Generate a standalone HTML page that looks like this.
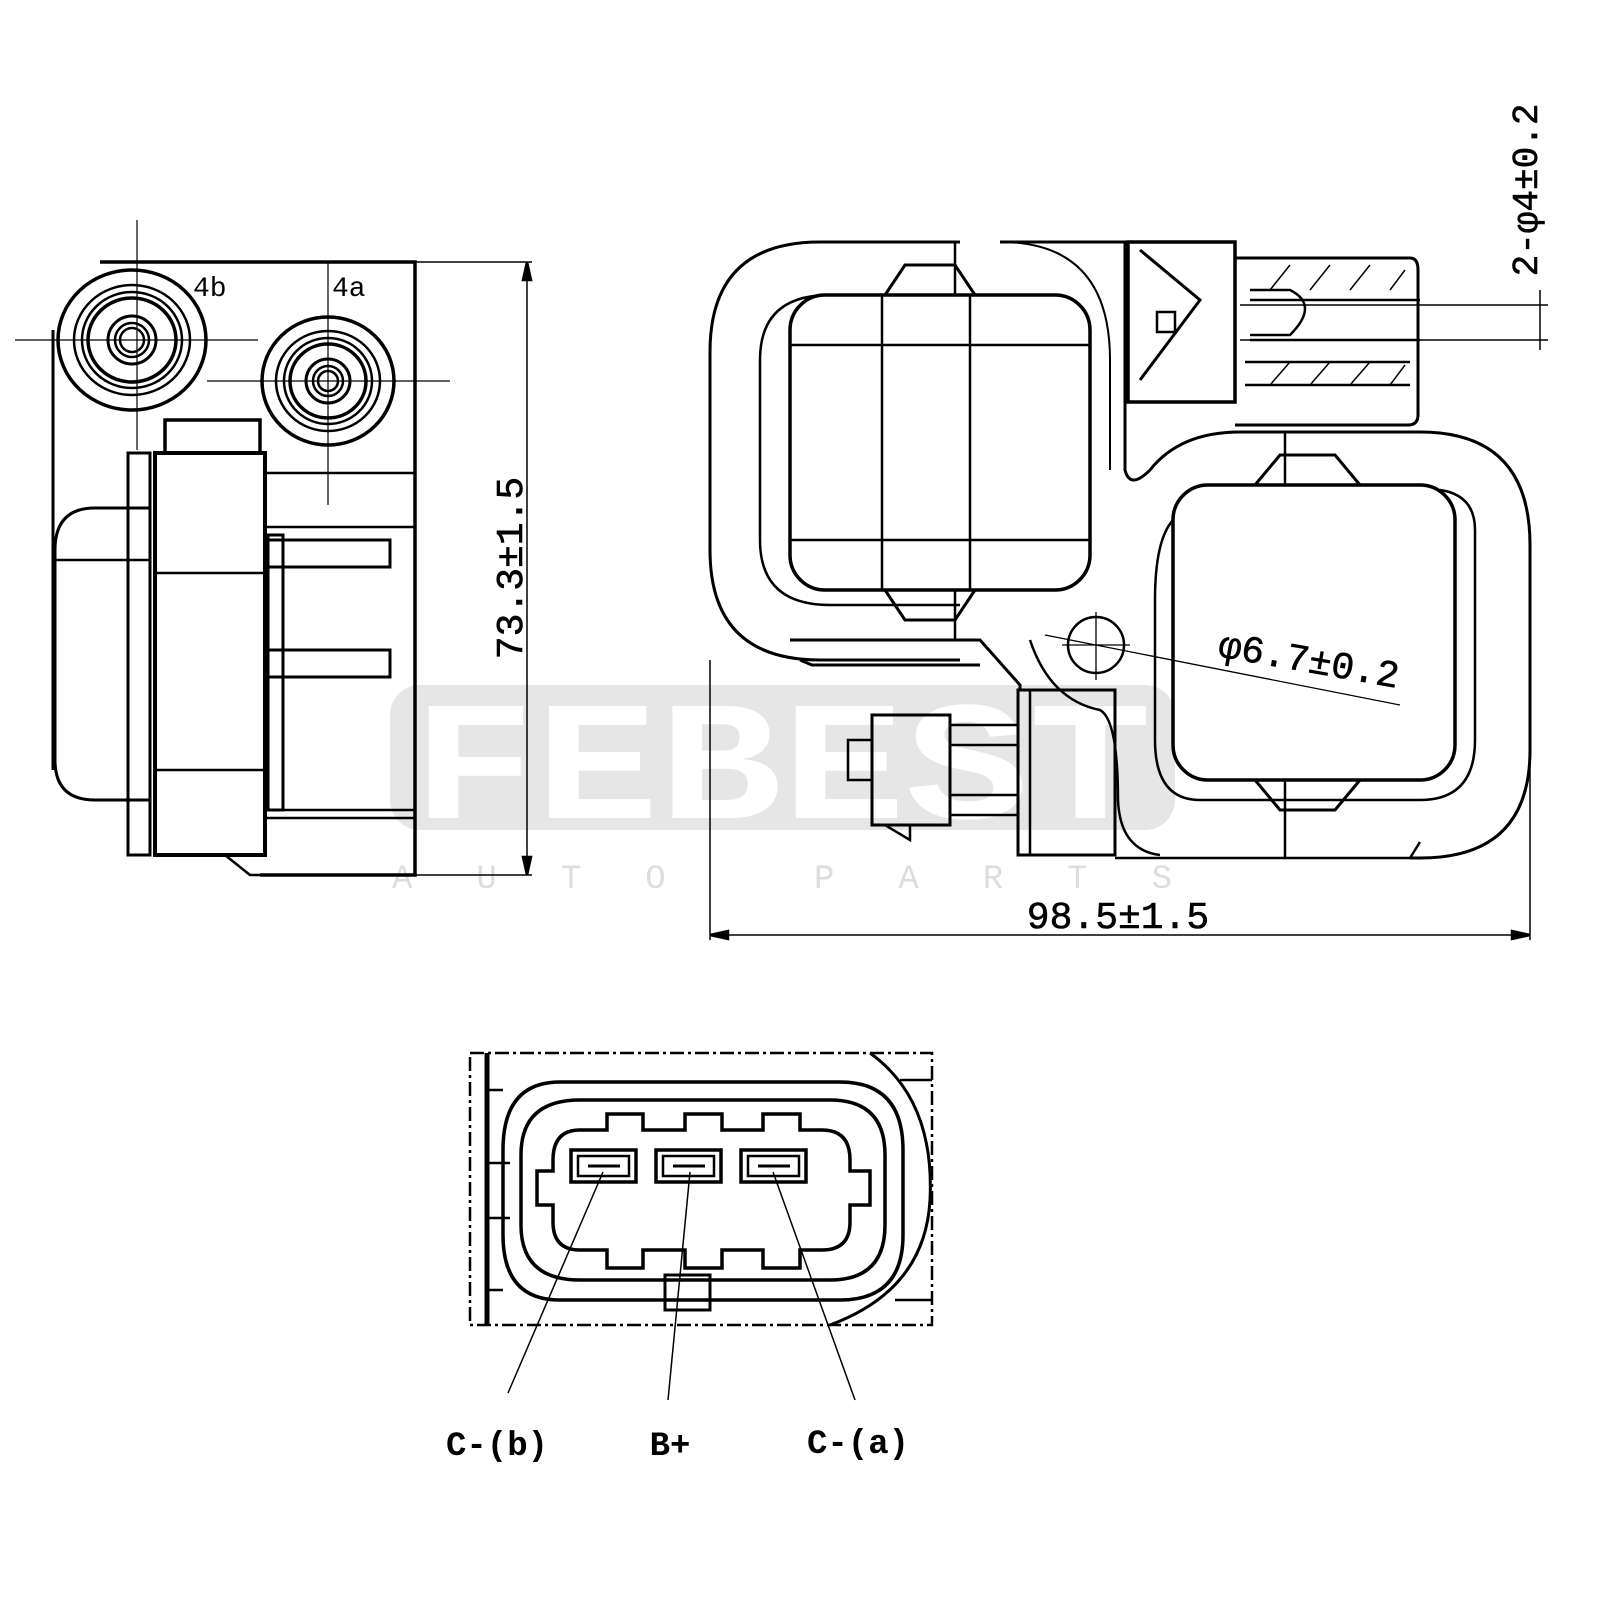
<!DOCTYPE html>
<html><head><meta charset="utf-8"><style>
html,body{margin:0;padding:0;background:#fff}
svg{display:block}
text{font-family:"Liberation Mono","DejaVu Sans Mono",monospace}
</style></head><body>
<svg width="1600" height="1600" viewBox="0 0 1600 1600" xmlns="http://www.w3.org/2000/svg">
<!-- watermark -->
<rect x="390" y="685" width="785" height="145" rx="30" fill="#e6e6e6"/>
<text x="782" y="818" text-anchor="middle" font-family="Liberation Sans,sans-serif" font-weight="bold" font-size="170" fill="#fff" textLength="740" lengthAdjust="spacingAndGlyphs">FEBEST</text>
<text x="782" y="888" text-anchor="middle" font-family="Liberation Sans,sans-serif" font-size="34" fill="#ddd" textLength="780" lengthAdjust="spacing">AUTO PARTS</text>

<g fill="none" stroke="#000" stroke-width="2.5">
<!-- LEFT VIEW -->
<path d="M100 262 H415 V875 H260" stroke-width="3.5"/>
<path d="M53 330 V770" stroke-width="3"/>
<ellipse cx="132" cy="340" rx="74" ry="70" stroke-width="3.5"/>
<ellipse cx="132" cy="340" rx="58" ry="55"/>
<ellipse cx="132" cy="340" rx="50" ry="48"/>
<ellipse cx="132" cy="340" rx="44" ry="42" stroke-width="3.5"/>
<circle cx="132" cy="340" r="24" stroke-width="3"/>
<circle cx="132" cy="340" r="17"/><circle cx="132" cy="340" r="12"/>
<ellipse cx="328" cy="381" rx="66" ry="64" stroke-width="3.5"/>
<ellipse cx="328" cy="381" rx="52" ry="50"/>
<ellipse cx="328" cy="381" rx="44" ry="43"/>
<ellipse cx="328" cy="381" rx="38" ry="37" stroke-width="3.5"/>
<circle cx="328" cy="381" r="22" stroke-width="3"/>
<circle cx="328" cy="381" r="15"/><circle cx="328" cy="381" r="10"/>
<g stroke-width="1.2">
<path d="M15 340 H258 M137 220 V450 M207 381 H450 M328 262 V505"/>
</g>
<path d="M265 473 H415 M265 527 H415 M265 810 H415 M265 818 H415"/>
<rect x="268" y="540" width="122" height="27" stroke-width="3"/>
<rect x="268" y="650" width="122" height="27" stroke-width="3"/>
<path d="M268 535 V810 H283 V535 Z" stroke-width="3"/>
<rect x="165" y="420" width="95" height="33" stroke-width="3.5"/>
<rect x="155" y="453" width="110" height="402" stroke-width="4"/>
<path d="M155 573 H265 M155 770 H265"/>
<rect x="128" y="453" width="22" height="402" stroke-width="3"/>
<path d="M150 508 H95 Q55 508 55 550 V760 Q55 800 95 800 H150" stroke-width="3"/>
<path d="M55 560 H150"/>
<path d="M225 855 L250 875 H265"/>
<!-- dimension 73.3 -->
<g stroke-width="1.5"><path d="M415 262 H532 M415 875 H532 M527 262 V875"/></g>
<path d="M527 262 L523 280 L531 280 Z M527 875 L523 857 L531 857 Z" fill="#000"/>

<!-- RIGHT VIEW -->
<path d="M960 242 H820 Q710 242 710 352 V550 Q710 660 820 660 H960" stroke-width="3"/>
<path d="M1000 242 H1125 V470 Q1130 490 1150 470 Q1180 432 1240 432 H1420 Q1530 432 1530 545 V750 Q1530 858 1420 858 H1410" stroke-width="3"/>
<path d="M960 295 H830 Q760 295 760 360 V540 Q760 605 830 605 H960"/>
<path d="M1000 242 Q1110 242 1110 360 V470" stroke-width="2"/>
<rect x="790" y="295" width="300" height="295" rx="35" stroke-width="3.5"/>
<path d="M790 345 H1090 M790 540 H1090 M882 295 V590 M970 295 V590"/>
<path d="M885 295 L905 265 H955 L975 295 M885 590 L905 620 H955 L975 590" stroke-width="3"/>
<path d="M955 242 V295 M955 590 V640"/>
<rect x="1173" y="485" width="282" height="295" rx="35" stroke-width="3.5"/>
<path d="M1173 520 Q1155 540 1155 600 V740 Q1155 800 1200 800 H1420 Q1475 800 1475 740 V530 Q1475 495 1440 490"/>
<path d="M1255 485 L1280 455 H1335 L1360 485 M1255 780 L1280 810 H1335 L1360 780" stroke-width="3"/>
<path d="M1285 432 V485 M1285 780 V858"/>
<!-- top connector -->
<rect x="1128" y="242" width="107" height="160" stroke-width="3.5"/>
<path d="M1140 250 L1200 300 L1140 380 M1235 258 H1410 Q1418 258 1418 270 V415 Q1418 425 1408 425 H1235" stroke-width="3"/>
<path d="M1250 300 H1420 M1250 340 H1420 M1245 362 H1410 M1245 385 H1410"/>
<path d="M1250 290 H1290 Q1320 305 1290 335 H1250"/>
<g stroke-width="1.5"><path d="M1270 290 L1290 265 M1310 290 L1330 265 M1350 290 L1370 265 M1390 290 L1405 270 M1270 385 L1290 362 M1310 385 L1330 362 M1350 385 L1370 362 M1390 385 L1405 365"/></g>
<rect x="1157" y="312" width="18" height="20"/>
<!-- bottom connector -->
<path d="M790 640 H980 L1020 685 L1020 690 M800 660 L812 665 H980" stroke-width="3"/>
<path d="M1030 640 Q1050 700 1100 710 Q1118 720 1118 800 Q1120 850 1160 855" />
<rect x="1018" y="690" width="97" height="165" stroke-width="3"/>
<path d="M1030 690 V855"/>
<rect x="872" y="715" width="78" height="110" stroke-width="3"/>
<path d="M950 725 H1018 V815 H950 Z M872 740 H848 V780 H872 M950 745 H1018 M950 795 H1018"/>
<path d="M885 825 L910 840 V825"/>
<path d="M1115 858 H1410 L1420 842"/>
<circle cx="1096" cy="645" r="28"/>
<g stroke-width="1.3"><path d="M1096 612 V680 M1062 645 H1130 M1045 635 L1400 705"/></g>
<!-- dim 98.5 -->
<g stroke-width="1.5"><path d="M710 660 V940 M1530 760 V940 M710 935 H1530"/></g>
<path d="M710 935 L728 931 L728 939 Z M1530 935 L1512 931 L1512 939 Z" fill="#000"/>
<!-- dim 2-φ4 -->
<g stroke-width="1.5"><path d="M1240 305 H1548 M1240 340 H1548 M1540 290 V350"/></g>

<!-- BOTTOM CONNECTOR VIEW -->
<path d="M470 1053 H932 V1325 H470 Z" stroke-width="2.5" stroke-dasharray="14 4 3 4"/>
<path d="M487 1053 V1325" stroke-width="5"/>
<path d="M560 1082 H840 Q903 1082 903 1150 V1235 Q903 1300 840 1300 H560 Q503 1300 503 1235 V1150 Q503 1082 560 1082 Z" stroke-width="3.5"/>
<path d="M580 1100 H830 Q885 1100 885 1155 V1225 Q885 1280 830 1280 H580 Q521 1280 521 1225 V1155 Q521 1100 580 1100 Z" stroke-width="3.5"/>
<path d="M580 1130 H607 V1114 H643 V1130 H685 V1114 H722 V1130 H763 V1114 H800 V1130 H822 Q850 1130 850 1160 V1171 H870 V1205 H850 V1222 Q850 1250 822 1250 H800 V1268 H763 V1250 H722 V1268 H685 V1250 H643 V1268 H607 V1250 H580 Q553 1250 553 1222 V1205 H537 V1171 H553 V1160 Q553 1130 580 1130 Z" stroke-width="3.5"/>
<path d="M870 1053 Q935 1100 930 1200 Q925 1290 830 1325" stroke-width="3"/>
<path d="M900 1080 H932 M895 1300 H932"/>
<path d="M487 1090 H503 M487 1290 H503 M487 1163 H510 M487 1218 H510"/>
<rect x="665" y="1275" width="45" height="35" stroke-width="3"/>
<g stroke-width="3.5"><rect x="571" y="1150" width="65" height="32"/><rect x="656" y="1150" width="65" height="32"/><rect x="741" y="1150" width="65" height="32"/></g>
<rect x="578" y="1156" width="51" height="20"/><rect x="663" y="1156" width="51" height="20"/><rect x="748" y="1156" width="51" height="20"/>
<path d="M588 1166 H620 M673 1166 H705 M758 1166 H790" stroke-width="3"/>
<g stroke-width="1.5"><path d="M603 1172 L508 1393 M690 1172 L668 1400 M773 1172 L855 1400"/></g>
</g>

<g fill="#000" font-family="Liberation Mono,monospace">
<text x="193" y="296" font-size="28">4b</text>
<text x="332" y="296" font-size="28">4a</text>
<text transform="translate(522,568) rotate(-90)" text-anchor="middle" font-size="38" stroke="#000" stroke-width="0.6">73.3±1.5</text>
<text x="1118" y="928" text-anchor="middle" font-size="38" stroke="#000" stroke-width="0.6">98.5±1.5</text>
<text transform="translate(1537,190) rotate(-90)" text-anchor="middle" font-size="36" stroke="#000" stroke-width="0.6">2-φ4±0.2</text>
<text transform="translate(1307,672) rotate(10)" text-anchor="middle" font-size="38" stroke="#000" stroke-width="0.6">φ6.7±0.2</text>
<text x="497" y="1455" text-anchor="middle" font-size="34" font-weight="bold">C-(b)</text>
<text x="670" y="1455" text-anchor="middle" font-size="34" font-weight="bold">B+</text>
<text x="858" y="1453" text-anchor="middle" font-size="34" font-weight="bold">C-(a)</text>
</g>
</svg>
</body></html>
